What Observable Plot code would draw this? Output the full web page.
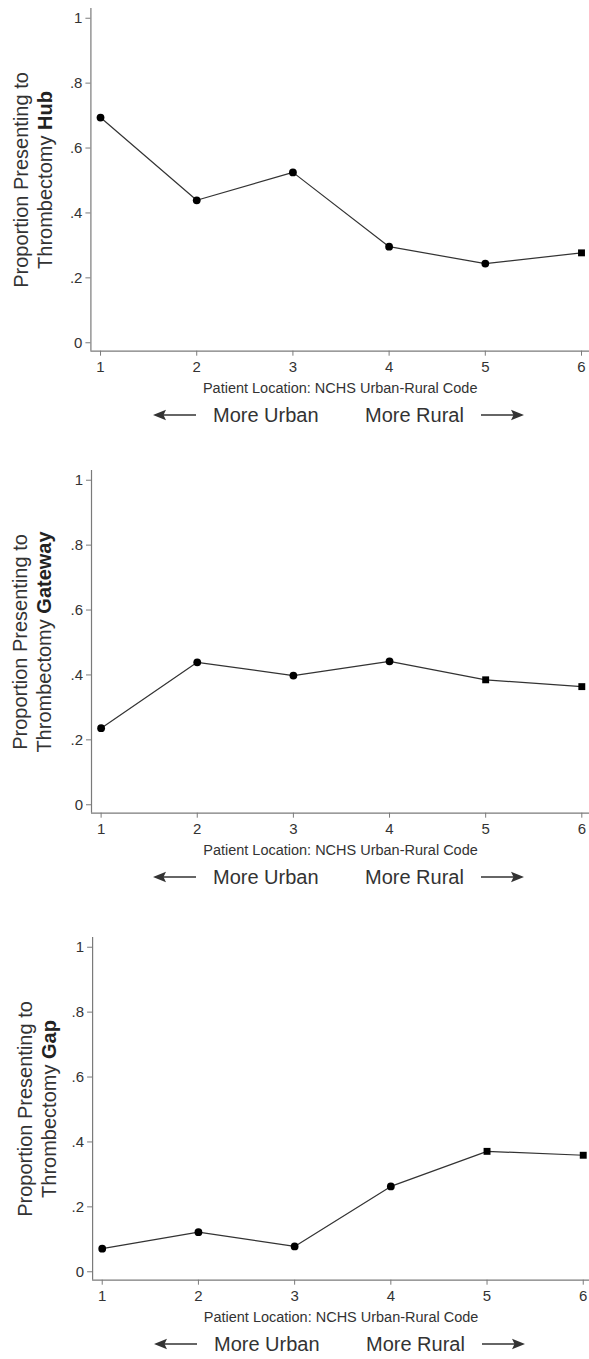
<!DOCTYPE html>
<html>
<head>
<meta charset="utf-8">
<script src="https://cdn.jsdelivr.net/npm/d3@7"></script>
<script src="https://cdn.jsdelivr.net/npm/@observablehq/plot@0.6"></script>
<style>
  html, body { margin: 0; padding: 0; background: #fff; }
  body { width: 589px; height: 1359px; position: relative; overflow: hidden;
         font-family: "Liberation Sans", Arial, sans-serif; color: #333; }
  .panel { position: absolute; left: 0; width: 589px; }
  .panel svg { position: absolute; left: 0; top: 0; overflow: visible; }
  .ylab { position: absolute; width: 340px; height: 48px; font-size: 20px; line-height: 24px;
          text-align: center; transform: rotate(-90deg); transform-origin: center center;
          color: #333; white-space: nowrap; }
  .ylab b { color: #222; }
  .dir { position: absolute; font-size: 20px; line-height: 24px; color: #333; white-space: nowrap; }
  .arr { position: absolute; }
</style>
</head>
<body>
<script>
// ---- data ----
const codes = [1, 2, 3, 4, 5, 6];
const xTickLabels = ["1", "2", "3", "4", "5", "6"];
const yTicks = [0, 0.2, 0.4, 0.6, 0.8, 1];
const yTickLabels = ["0", ".2", ".4", ".6", ".8", "1"];
const hub = [0.694, 0.439, 0.525, 0.296, 0.244, 0.277];
const gateway = [0.236, 0.439, 0.398, 0.442, 0.385, 0.364];
const gap = [0.071, 0.122, 0.078, 0.263, 0.371, 0.359];
const facilityTypes = ["Hub", "Gateway", "Gap"];
const squareCodes = [[6], [5, 6], [5, 6]];
const yLabelPrefix = "Thrombectomy ";
const yLabelLine1 = "Proportion Presenting to";
const xLabel = "Patient Location: NCHS Urban-Rural Code";
const urbanLabel = "More Urban";
const ruralLabel = "More Rural";

const series = [hub, gateway, gap];
// layout per panel
const panelTops = [0, 462.3, 929];
const panelLeft = [90.4, 91, 92.1];
const panelXMax = [6.083, 6.08, 6.065];
const labelShift = [0, -1, 4];
const dirShift = [0, 0, 1];

const yDomain = [-0.026, 1.03];
const fontFam = '"Liberation Sans", Arial, sans-serif';
const axisGray = "#7a7a7a";
const textGray = "#333";

function arrowSvg(dir) {
  const ns = "http://www.w3.org/2000/svg";
  const s = document.createElementNS(ns, "svg");
  s.setAttribute("width", 43); s.setAttribute("height", 14);
  const l = document.createElementNS(ns, "line");
  const p = document.createElementNS(ns, "path");
  if (dir < 0) {
    l.setAttribute("x1", 9); l.setAttribute("x2", 43);
    p.setAttribute("d", "M0,7 L13,1.8 L10.5,7 L13,12.2 Z");
  } else {
    l.setAttribute("x1", 0); l.setAttribute("x2", 34);
    p.setAttribute("d", "M43,7 L30,1.8 L32.5,7 L30,12.2 Z");
  }
  l.setAttribute("y1", 7); l.setAttribute("y2", 7);
  l.setAttribute("stroke", "#333"); l.setAttribute("stroke-width", 1.6);
  p.setAttribute("fill", "#333");
  s.appendChild(l); s.appendChild(p);
  return s;
}

series.forEach((vals, i) => {
  const data = codes.map((c, j) => ({code: c, value: vals[j]}));
  const xDomain = [0.9, panelXMax[i]];
  const marginTop = 8, marginBottom = 50;
  const height = 350.7 + marginBottom;
  const sq = new Set(squareCodes[i]);
  const plot = Plot.plot({
    width: 589,
    height,
    marginLeft: panelLeft[i],
    marginRight: 0,
    marginTop,
    marginBottom,
    style: {fontFamily: fontFam, color: textGray, background: "transparent", overflow: "visible"},
    x: {domain: xDomain},
    y: {domain: yDomain},
    marks: [
      Plot.ruleX([xDomain[0]], {stroke: axisGray, strokeWidth: 1.2}),
      Plot.ruleY([yDomain[0]], {stroke: axisGray, strokeWidth: 1.2}),
      Plot.axisY({ticks: yTicks, tickFormat: () => "", tickSize: 5, label: null, stroke: axisGray}),
      Plot.axisX({ticks: codes, tickFormat: () => "", tickSize: 5, label: null, stroke: axisGray}),
      Plot.text(yTicks, {x: xDomain[0], y: d => d, text: (d, j) => yTickLabels[j],
                         textAnchor: "end", dx: -8.5, fontSize: 15, fill: textGray}),
      Plot.text(codes, {x: d => d, y: yDomain[0], text: (d, j) => xTickLabels[j],
                        dy: 15.5, lineAnchor: "middle", fontSize: 15, fill: textGray}),
      Plot.text([xLabel], {frameAnchor: "bottom", dy: 37.5, lineAnchor: "middle", fontSize: 14.5,
                           fill: textGray, text: d => d}),
      Plot.line(data, {x: "code", y: "value", stroke: "#333", strokeWidth: 1.2}),
      Plot.dot(data.filter(d => !sq.has(d.code)), {x: "code", y: "value", r: 3.9, fill: "#000", symbol: "circle"}),
      Plot.dot(data.filter(d => sq.has(d.code)), {x: "code", y: "value", r: 3.9, fill: "#000", symbol: "square"})
    ]
  });

  const panel = document.createElement("div");
  panel.className = "panel";
  panel.style.top = panelTops[i] + "px";
  panel.style.height = "460px";
  panel.appendChild(plot);

  // y-label (two lines, rotated)
  const yScale = plot.scale("y");
  const cy = yScale.apply(0.5);
  const cx = 32.8 + labelShift[i];
  const lab = document.createElement("div");
  lab.className = "ylab";
  lab.style.left = (cx - 170) + "px";
  lab.style.top = (cy - 24) + "px";
  lab.innerHTML = yLabelLine1 + "<br>" + yLabelPrefix + "<b>" + facilityTypes[i] + "</b>";
  panel.appendChild(lab);

  // direction line
  const axisY = marginTop + (350.7 - 8);
  const rowC = axisY + 64.3;
  const s = dirShift[i];
  const la = arrowSvg(-1); la.classList.add("arr");
  la.style.left = (152.7 + s) + "px"; la.style.top = (rowC - 7) + "px";
  panel.appendChild(la);
  const u = document.createElement("div"); u.className = "dir"; u.textContent = urbanLabel;
  u.style.left = (213 + s) + "px"; u.style.top = (rowC - 12) + "px";
  panel.appendChild(u);
  const r = document.createElement("div"); r.className = "dir"; r.textContent = ruralLabel;
  r.style.left = (365 + s) + "px"; r.style.top = (rowC - 12) + "px";
  panel.appendChild(r);
  const ra = arrowSvg(1); ra.classList.add("arr");
  ra.style.left = (480.7 + s) + "px"; ra.style.top = (rowC - 7) + "px";
  panel.appendChild(ra);

  document.body.appendChild(panel);
});
</script>
</body>
</html>
